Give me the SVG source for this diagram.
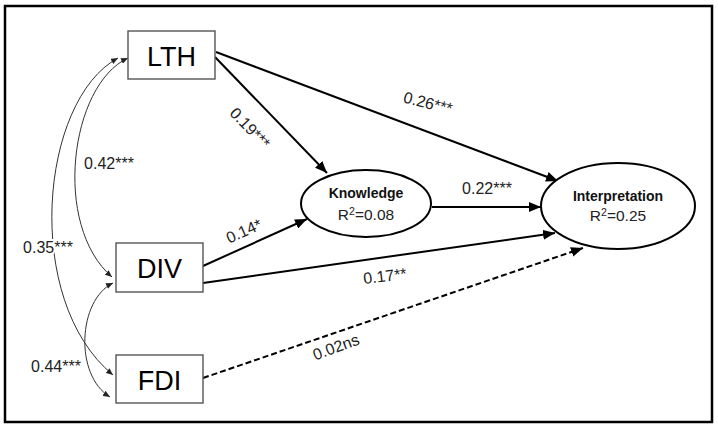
<svg xmlns="http://www.w3.org/2000/svg" width="718" height="426" viewBox="0 0 718 426">
<defs>
<marker id="ah" viewBox="0 0 12 10" refX="12" refY="5" markerWidth="12" markerHeight="10" markerUnits="userSpaceOnUse" orient="auto">
<path d="M0,0 L12,5 L0,10 Z" fill="#000"/>
</marker>
<marker id="sh" viewBox="0 0 7 6" refX="7" refY="3" markerWidth="7" markerHeight="6" markerUnits="userSpaceOnUse" orient="auto-start-reverse">
<path d="M0,0 L7,3 L0,6 Z" fill="#222"/>
</marker>
<style>
.box{fill:#fff;stroke:#555;stroke-width:1.4}
.ell{fill:#fff;stroke:#000;stroke-width:2}
.big{font-family:"Liberation Sans",Arial,sans-serif;font-size:27px;fill:#000;text-anchor:middle}
.nb{font-family:"Liberation Sans",Arial,sans-serif;font-size:14px;font-weight:bold;fill:#111;text-anchor:middle}
.nr{font-family:"Liberation Sans",Arial,sans-serif;font-size:15.5px;fill:#222;text-anchor:middle}
.lbl{font-family:"Liberation Sans",Arial,sans-serif;font-size:16px;fill:#222;text-anchor:middle;paint-order:stroke;stroke:#fff;stroke-width:4px}
.main{fill:none;stroke:#000;stroke-width:2;marker-end:url(#ah)}
.dash{stroke-dasharray:6,3}
.cv{fill:none;stroke:#333;stroke-width:1;marker-start:url(#sh);marker-end:url(#sh)}
</style>
</defs>
<rect x="0" y="0" width="718" height="426" fill="#fff"/>
<rect x="5" y="6" width="707" height="416" fill="none" stroke="#000" stroke-width="2.5"/>

<g id="connectors">
<path class="main" d="M215,57 L327,173"/>
<path class="main" d="M216,52 L558,181"/>
<path class="main" d="M432,207 L541,207"/>
<path class="main" d="M203,266 L307,219"/>
<path class="main" d="M203,283 L555,233"/>
<path class="main dash" d="M203,378 L583,248"/>
<path class="cv" d="M128,58 C70,85 52,225 112,277"/>
<path class="cv" d="M118,58 C40,100 22,300 113,375"/>
<path class="cv" d="M113,283 C78,300 74,375 110,397"/>
<text class="lbl" transform="translate(250,128) rotate(46)" y="5.5">0.19***</text>
<text class="lbl" transform="translate(428,103) rotate(14)" y="5.5">0.26***</text>
<text class="lbl" x="487" y="193.5">0.22***</text>
<text class="lbl" transform="translate(244,231) rotate(-24)" y="5.5">0.14*</text>
<text class="lbl" transform="translate(385,276) rotate(-7)" y="5.5">0.17**</text>
<text class="lbl" transform="translate(336,347) rotate(-20)" y="5.5">0.02ns</text>
<text class="lbl" x="109" y="168.5">0.42***</text>
<text class="lbl" x="48" y="252.5">0.35***</text>
<text class="lbl" x="56" y="371.5">0.44***</text>
</g>

<g id="LTH">
<rect class="box" x="128" y="31" width="87" height="48"/>
<text class="big" x="171.5" y="66">LTH</text>
</g>
<g id="DIV">
<rect class="box" x="116" y="243" width="87" height="49"/>
<text class="big" x="159.5" y="277.5">DIV</text>
</g>
<g id="FDI">
<rect class="box" x="116" y="355" width="87" height="48"/>
<text class="big" x="159.5" y="389.5">FDI</text>
</g>
<g id="Knowledge">
<ellipse class="ell" cx="366" cy="203.5" rx="65" ry="33.5"/>
<text class="nb" x="366" y="198">Knowledge</text>
<text class="nr" x="366" y="220">R<tspan font-size="10.5" dy="-5.5">2</tspan><tspan dy="5.5">=0.08</tspan></text>
</g>
<g id="Interpretation">
<ellipse class="ell" cx="618" cy="206" rx="77" ry="43"/>
<text class="nb" x="618" y="200.5" font-size="14.5">Interpretation</text>
<text class="nr" x="618" y="221">R<tspan font-size="10.5" dy="-5.5">2</tspan><tspan dy="5.5">=0.25</tspan></text>
</g>
</svg>
